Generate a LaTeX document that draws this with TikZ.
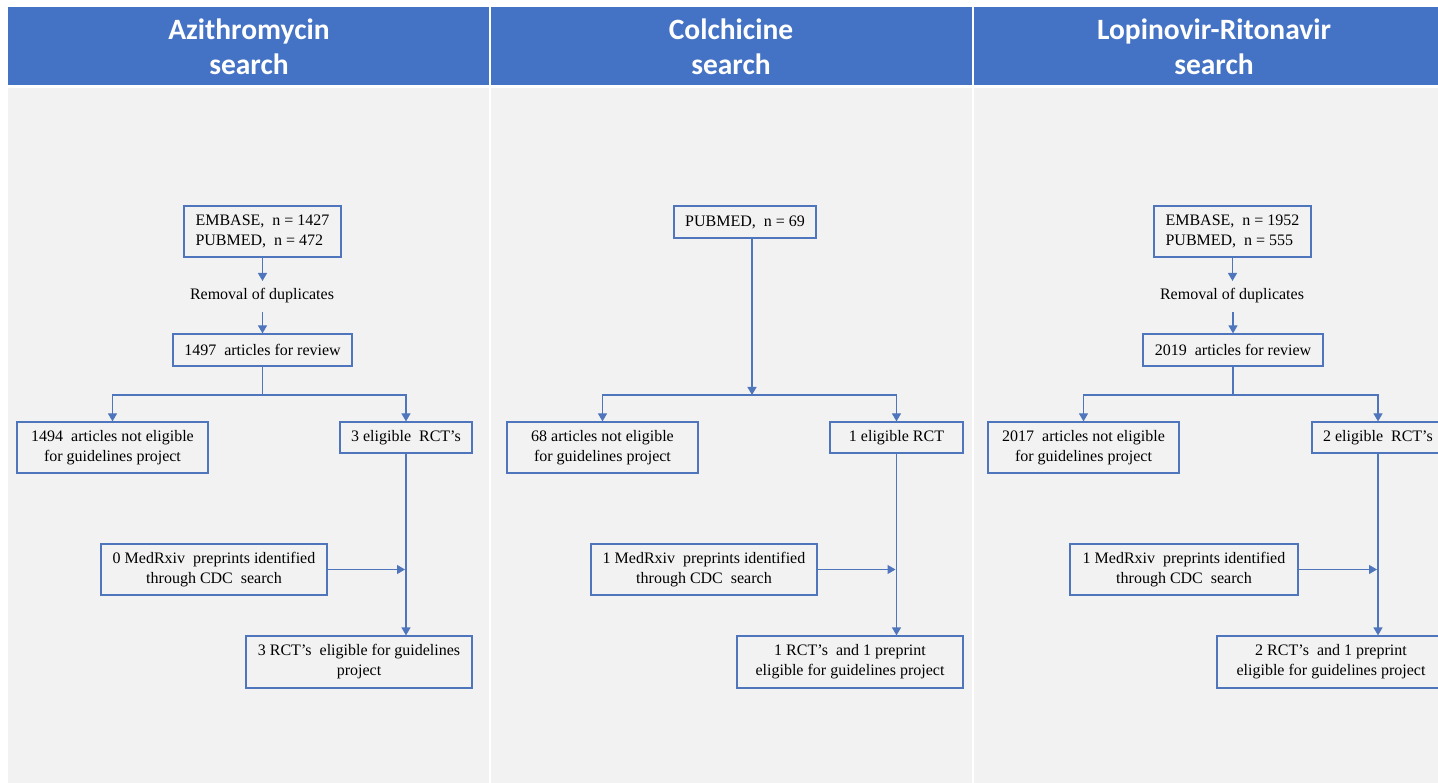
\documentclass[tikz,border=0pt]{standalone}
\usepackage{fontspec}
\setmainfont{Liberation Serif}
\newfontfamily\headfont{Carlito}
\usetikzlibrary{arrows.meta}
\definecolor{hdr}{HTML}{4472C4}
\definecolor{bg}{HTML}{F2F2F2}
\definecolor{ln}{HTML}{4F76BD}
\begin{document}
\begin{tikzpicture}[x=1pt,y=-1pt,
  box/.style={draw=ln, line width=1.2pt, fill=bg, inner sep=0pt, align=center,
    font=\fontsize{16}{20}\selectfont},
  lbox/.style={box, align=left},
  lbl/.style={inner sep=3pt, font=\fontsize{16}{20}\selectfont},
  conn/.style={draw=ln, line width=1.2pt},
  arr/.style={conn, -{Triangle[width=9pt,length=8pt]}},
  hd/.style={text=white, align=center, font=\headfont\bfseries\fontsize{29.5}{35}\selectfont}]
\useasboundingbox (0,0) rectangle (1438,783);
\fill[white] (0,0) rectangle (1438,783);
\fill[bg] (8,88) rectangle (1438,783);
\fill[hdr] (8,7) rectangle (1438,85);
\draw[white, line width=2pt] (490,7) -- (490,783) (973,7) -- (973,783);
% headers
\node[hd] (h1) at (249,47) {Azithromycin\\search};
\node[hd] (h2) at (731,47) {Colchicine\\search};
\node[hd] (h3) at (1214,47) {Lopinovir-Ritonavir\\search};
% panel 1
\node[lbox, minimum width=157pt, minimum height=51pt] (e1) at (262.5,231.5) {EMBASE,~ n = 1427\\PUBMED,~ n = 472};
\node[lbl] (r1) at (262,296) {Removal of duplicates};
\node[box, minimum width=179pt, minimum height=32pt] (a1) at (262.5,350) {1497~ articles for review};
\node[box, minimum width=191pt, minimum height=51pt] (n1) at (112.5,447.5) {1494~ articles not eligible\\for guidelines project};
\node[box, minimum width=132pt, minimum height=31pt] (g1) at (406,437.5) {3 eligible~ RCT's};
\node[box, minimum width=226pt, minimum height=51pt] (m1) at (214,569.5) {0 MedRxiv~ preprints identified\\through CDC~ search};
\node[box, minimum width=226pt, minimum height=52pt] (f1) at (359,662) {3 RCT's~ eligible for guidelines\\project};
\draw[arr] (e1.south) -- (e1.south |- 0,281);
\draw[arr] (a1.north |- 0,312) -- (a1.north);
\coordinate (j1) at (262.5,395);
\draw[conn] (a1.south) -- (j1);
\draw[arr] (j1) -| (n1.north);
\draw[arr] (j1) -| (g1.north);
\draw[arr] (g1.south) -- (g1.south |- f1.north);
\coordinate (k1) at ([xshift=-1pt]g1.south |- m1.east);
\draw[arr] (m1.east) -- (k1);
% panel 2
\node[box, minimum width=142pt, minimum height=32pt] (p2) at (745,222) {PUBMED,~ n = 69};
\node[box, minimum width=191pt, minimum height=51pt] (n2) at (602.5,447.5) {68 articles not eligible\\for guidelines project};
\node[box, minimum width=133pt, minimum height=31pt] (g2) at (896.5,437.5) {1 eligible RCT};
\node[box, minimum width=226pt, minimum height=51pt] (m2) at (704,569.5) {1 MedRxiv~ preprints identified\\through CDC~ search};
\node[box, minimum width=226pt, minimum height=52pt] (f2) at (850,662) {1 RCT's~ and 1 preprint\\eligible for guidelines project};
\coordinate (j2) at (752,395);
\draw[arr] (j2 |- p2.south) -- (j2);
\draw[arr] (j2) -| (n2.north);
\draw[arr] (j2) -| (g2.north);
\draw[arr] (g2.south) -- (g2.south |- f2.north);
\coordinate (k2) at ([xshift=-1pt]g2.south |- m2.east);
\draw[arr] (m2.east) -- (k2);
% panel 3
\node[lbox, minimum width=157pt, minimum height=51pt] (e3) at (1232.5,231.5) {EMBASE,~ n = 1952\\PUBMED,~ n = 555};
\node[lbl] (r3) at (1232,296) {Removal of duplicates};
\node[box, minimum width=180pt, minimum height=32pt] (a3) at (1233,350) {2019~ articles for review};
\node[box, minimum width=191pt, minimum height=51pt] (n3) at (1083.5,447.5) {2017~ articles not eligible\\for guidelines project};
\node[box, minimum width=132pt, minimum height=31pt] (g3) at (1378,437.5) {2 eligible~ RCT's};
\node[box, minimum width=228pt, minimum height=51pt] (m3) at (1184,569.5) {1 MedRxiv~ preprints identified\\through CDC~ search};
\node[box, minimum width=228pt, minimum height=52pt] (f3) at (1331,662) {2 RCT's~ and 1 preprint\\eligible for guidelines project};
\draw[arr] (e3.south) -- (e3.south |- 0,281);
\draw[arr] (a3.north |- 0,312) -- (a3.north);
\coordinate (j3) at (1233,395);
\draw[conn] (a3.south) -- (j3);
\draw[arr] (j3) -| (n3.north);
\draw[arr] (j3) -| (g3.north);
\draw[arr] (g3.south) -- (g3.south |- f3.north);
\coordinate (k3) at ([xshift=-1pt]g3.south |- m3.east);
\draw[arr] (m3.east) -- (k3);
\end{tikzpicture}
\end{document}
